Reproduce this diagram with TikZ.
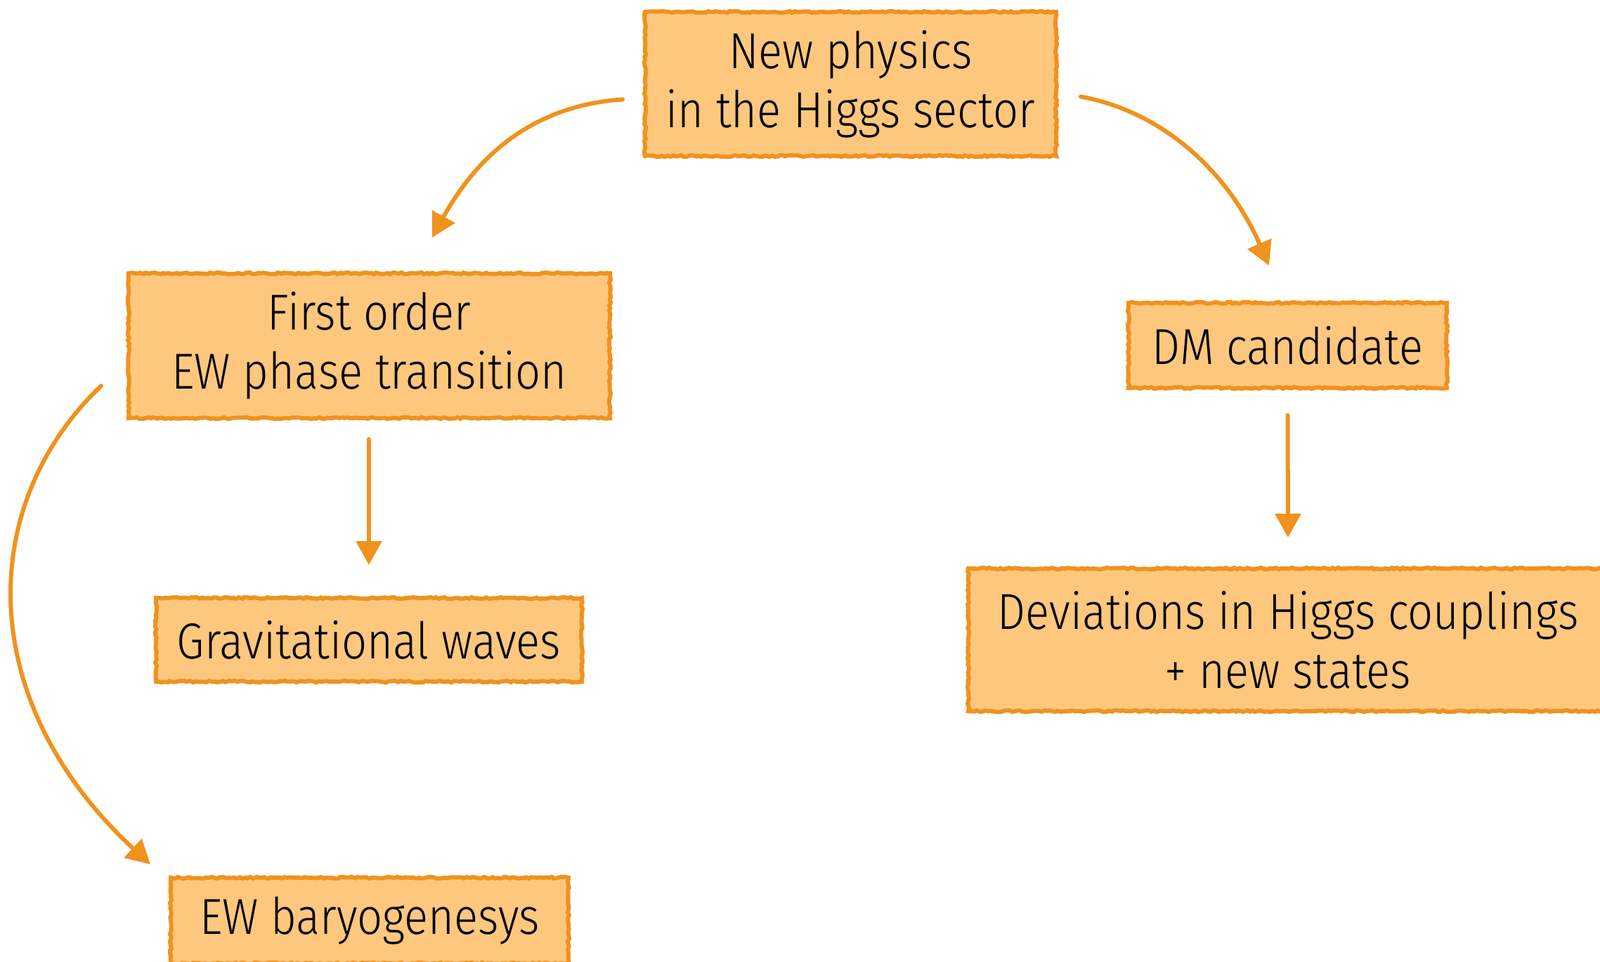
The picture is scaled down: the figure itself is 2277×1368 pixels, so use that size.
\documentclass[tikz,border=0pt]{standalone}
\usepackage{fontspec}
\setmainfont{Fira Sans}[UprightFont=* Light, FakeStretch=0.88]
\usetikzlibrary{arrows.meta,decorations.pathmorphing}
\definecolor{boxfill}{HTML}{FDC77E}
\definecolor{boxline}{HTML}{F0921E}
\tikzset{
  box/.style={draw=boxline, fill=boxfill, line width=6pt, inner sep=0pt,
    align=center, font=\fontsize{72}{84}\selectfont,
    decorate, decoration={random steps, segment length=4pt, amplitude=1.2pt}},
  conn/.style={draw=boxline, line width=6pt, line cap=round,
    -{Triangle[length=34pt,width=36pt]}},
}
\begin{document}
\begin{tikzpicture}[x=1pt,y=-1pt]
\useasboundingbox (0,0) rectangle (2277,1368);
\node[box, minimum width=585pt, minimum height=205pt] (np) at (1210.5,119.5) {New physics\\in the Higgs sector};
\node[box, minimum width=685pt, minimum height=206pt] (fo) at (525.5,492) {First order\\EW phase transition};
\node[box, minimum width=606pt, minimum height=119pt] (gw) at (525,910.5) {Gravitational waves};
\node[box, minimum width=566pt, minimum height=122pt] (bg) at (526,1310) {EW baryogenesys};
\node[box, minimum width=453pt, minimum height=121pt] (dm) at (1832.5,491.5) {DM candidate};
\node[box, minimum width=910pt, minimum height=203pt] (dev) at (1833,910.5) {Deviations in Higgs couplings\\+ new states};

\coordinate (a1s) at ([xshift=-29pt,yshift=-22pt]np.west);
\coordinate (a1e) at (615,338);
\draw[conn] (a1s) .. controls (760,150) and (680,220) .. (a1e);
\coordinate (a2s) at ([xshift=32pt,yshift=-18pt]np.east);
\coordinate (a2e) at (1806,378);
\draw[conn] (a2s) .. controls (1660,160) and (1750,250) .. (a2e);
\draw[conn] ([yshift=-27pt]fo.south -| gw.north) -- ([yshift=44pt]gw.north);
\draw[conn] ([yshift=-36pt]dm.south) -- ([yshift=41pt]dev.north);
\coordinate (a5s) at ([xshift=-36pt,yshift=-57pt]fo.west);
\coordinate (a5e) at (214,1230);
\draw[conn] (a5s) .. controls (-35,720) and (-35,1000) .. (a5e);
\end{tikzpicture}
\end{document}
